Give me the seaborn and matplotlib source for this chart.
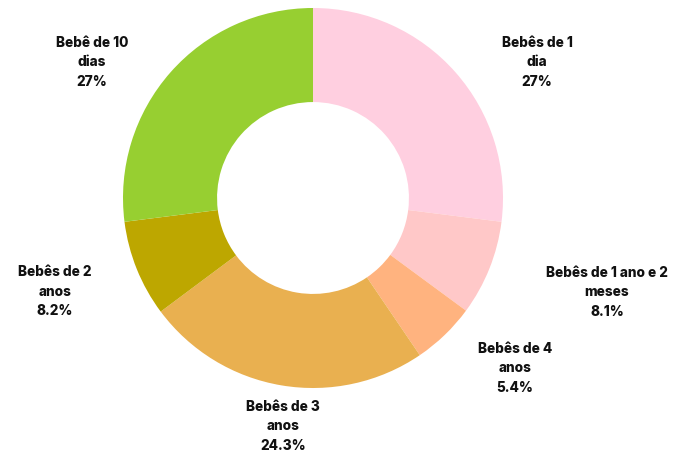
import matplotlib
matplotlib.use("Agg")
import matplotlib.pyplot as plt
import seaborn as sns

# data
categories = [
    "Bebês de 1\ndia",
    "Bebês de 1 ano e 2\nmeses",
    "Bebês de 4\nanos",
    "Bebês de 3\nanos",
    "Bebês de 2\nanos",
    "Bebê de 10\ndias",
]
shares = [27, 8.1, 5.4, 24.3, 8.2, 27]
pct_labels = ["27%", "8.1%", "5.4%", "24.3%", "8.2%", "27%"]

colors = ["#ffcfe0", "#ffc8c8", "#ffb37f", "#e9b050", "#bda700", "#97cf31"]

# where each label block sits (pixels, top-left origin)
label_pos = [(537, 36), (607, 266), (515, 342), (283, 400), (55, 265), (92, 36)]

sns.set_theme(style="white")
plt.rcParams["font.family"] = ["Inter", "DejaVu Sans"]

W, H = 673, 454
fig = plt.figure(figsize=(W / 100, H / 100), dpi=100)
ax = fig.add_axes([0, 0, 1, 1])

cx, cy, r = 313, 198, 190
# y axis runs downwards, so -90 is the top and counterclock is clockwise on screen
ax.pie(
    shares,
    colors=colors,
    startangle=-90,
    counterclock=True,
    center=(cx, cy),
    radius=r,
    wedgeprops=dict(width=r * 0.495, edgecolor="none"),
    frame=True,
)
ax.set_xlim(0, W)
ax.set_ylim(H, 0)
ax.set_aspect("equal")
ax.axis("off")

for (x, y), name, pct in zip(label_pos, categories, pct_labels):
    ax.text(x, y, name + "\n" + pct, ha="center", va="top", fontsize=9.8,
            fontweight="heavy", color="#111111", linespacing=1.5)

fig.savefig("out.png", dpi=100)
